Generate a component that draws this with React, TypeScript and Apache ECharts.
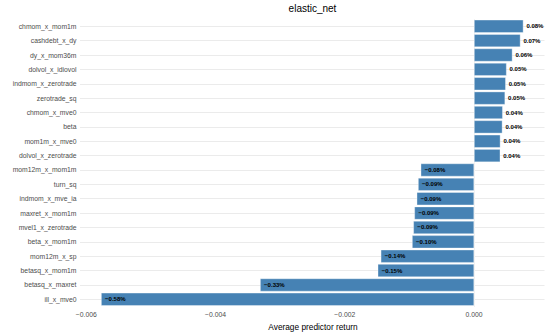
import React, { useEffect, useRef } from "react";
import * as echarts from "echarts";

const chartTitle = "elastic_net";
const axisTitle = "Average predictor return";

const categories = [
  "chmom_x_mom1m",
  "cashdebt_x_dy",
  "dy_x_mom36m",
  "dolvol_x_idiovol",
  "indmom_x_zerotrade",
  "zerotrade_sq",
  "chmom_x_mve0",
  "beta",
  "mom1m_x_mve0",
  "dolvol_x_zerotrade",
  "mom12m_x_mom1m",
  "turn_sq",
  "indmom_x_mve_ia",
  "maxret_x_mom1m",
  "mvel1_x_zerotrade",
  "beta_x_mom1m",
  "mom12m_x_sp",
  "betasq_x_mom1m",
  "betasq_x_maxret",
  "ill_x_mve0",
];

const values = [
  0.000763, 0.000717, 0.000593, 0.000503, 0.00049, 0.00048, 0.000443, 0.000438,
  0.000407, 0.000405, -0.000825, -0.000866, -0.000887, -0.000923, -0.000939,
  -0.000959, -0.001443, -0.00149, -0.00331, -0.00577,
];

const xTickLabels = [-0.006, -0.004, -0.002, 0];
const xMajorGrid = [-0.006, -0.004, -0.002, 0];
const xMinorGrid = [-0.005, -0.003, -0.001, 0.001];

const fontFamily = "Liberation Sans, Arial, sans-serif";

export default function App() {
  const ref = useRef<HTMLDivElement>(null);

  useEffect(() => {
    if (!ref.current) return;
    document.body.style.margin = "0";
    const chart = echarts.init(ref.current, null, { renderer: "svg" });

    const dMin = Math.min(...values, 0);
    const dMax = Math.max(...values, 0);
    const span = dMax - dMin;
    const xMin = dMin - 0.05 * span;
    const xMax = dMax + 0.05 * span;

    const fmtTick = (v: number) => {
      const s = Math.abs(v).toFixed(3);
      return v < -1e-12 ? "\u2212" + s : s;
    };
    const fmtPct = (v: number) => {
      const s = (Math.abs(v) * 100).toFixed(2) + "%";
      return v < 0 ? "\u2212" + s : s;
    };

    const gridLineData: any[] = [];
    categories.forEach((c) => {
      gridLineData.push({ yAxis: c, lineStyle: { color: "#EBEBEB", width: 1, type: "solid" } });
    });
    xMajorGrid.forEach((v) => {
      gridLineData.push({ xAxis: v, lineStyle: { color: "#EBEBEB", width: 1, type: "solid" } });
    });
    xMinorGrid.forEach((v) => {
      gridLineData.push({ xAxis: v, lineStyle: { color: "#F2F2F2", width: 0.6, type: "solid" } });
    });

    chart.setOption({
      animation: false,
      textStyle: { fontFamily },
      grid: {
        left: 80,
        right: 3.5,
        top: 19.1,
        height: 287.4,
        containLabel: false,
      },
      xAxis: {
        type: "value",
        min: xMin,
        max: xMax,
        axisLine: { show: false },
        axisTick: { show: false },
        splitLine: { show: false },
        axisLabel: {
          customValues: xTickLabels,
          formatter: (v: number) => fmtTick(v),
          color: "#4D4D4D",
          fontSize: 6.8,
          fontFamily,
          margin: 4,
        },
      },
      yAxis: {
        type: "category",
        data: categories,
        inverse: true,
        axisLine: { show: false },
        axisTick: { show: false },
        splitLine: { show: false },
        axisLabel: {
          color: "#4D4D4D",
          fontSize: 6.8,
          fontFamily,
          margin: 3.5,
        },
      },
      graphic: [
        {
          type: "text",
          x: 312.5,
          y: 8.5,
          style: {
            text: chartTitle,
            fill: "#000000",
            font: `10px ${fontFamily}`,
            textAlign: "center",
            textVerticalAlign: "middle",
          },
        },
        {
          type: "text",
          x: 313,
          y: 327,
          style: {
            text: axisTitle,
            fill: "#000000",
            font: `8.3px ${fontFamily}`,
            textAlign: "center",
            textVerticalAlign: "middle",
          },
        },
      ],
      series: [
        {
          type: "bar",
          z: 2,
          barCategoryGap: "10%",
          itemStyle: {
            color: "#4682B4",
            borderColor: "rgba(255,255,255,0.7)",
            borderWidth: 0.5,
          },
          label: {
            show: true,
            fontSize: 6,
            fontWeight: "bold",
            color: "#000000",
            fontFamily,
            formatter: (p: any) => fmtPct(p.value),
          },
          data: values.map((v) => ({
            value: v,
            label: {
              position: v >= 0 ? "right" : "insideLeft",
              distance: v >= 0 ? 3 : 4,
            },
          })),
          markLine: {
            silent: true,
            z: 1,
            symbol: "none",
            animation: false,
            label: { show: false },
            emphasis: { disabled: true },
            data: gridLineData,
          },
        },
      ],
    });

    return () => chart.dispose();
  }, []);

  return <div ref={ref} style={{ width: 548, height: 332 }} />;
}
